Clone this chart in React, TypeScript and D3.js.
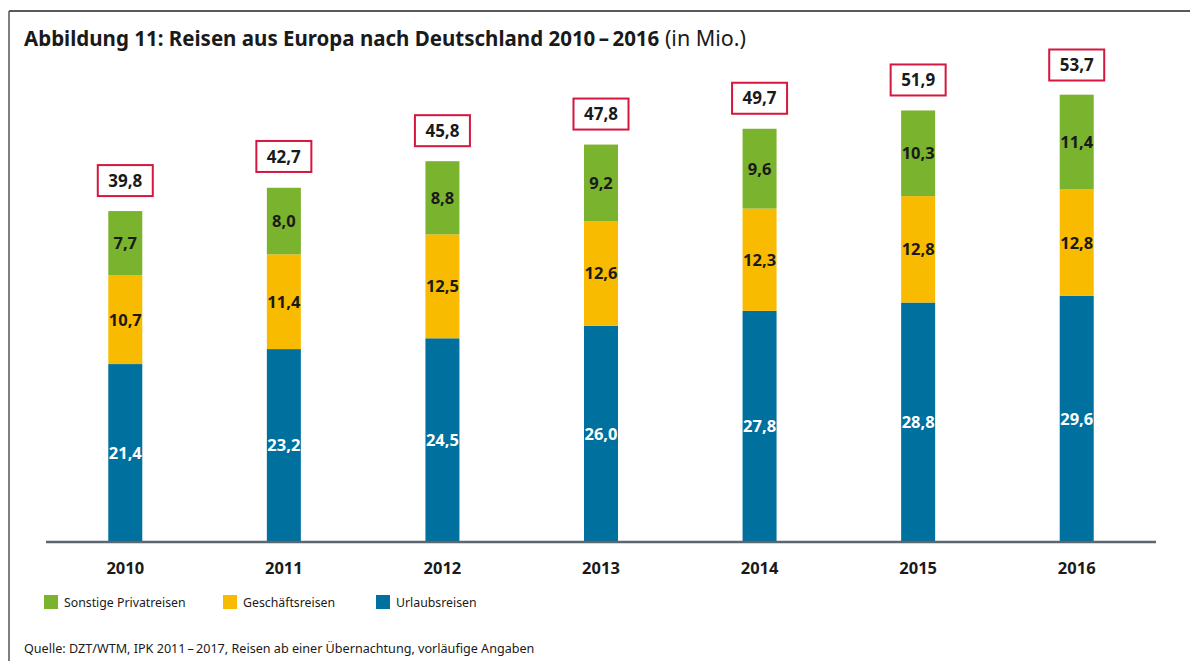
import React from "react";
import * as d3 from "d3";

const years = ["2010", "2011", "2012", "2013", "2014", "2015", "2016"];
const urlaub = [21.4, 23.2, 24.5, 26.0, 27.8, 28.8, 29.6];
const geschaeft = [10.7, 11.4, 12.5, 12.6, 12.3, 12.8, 12.8];
const sonstige = [7.7, 8.0, 8.8, 9.2, 9.6, 10.3, 11.4];
const totals = [39.8, 42.7, 45.8, 47.8, 49.7, 51.9, 53.7];
const seriesNames = ["Sonstige Privatreisen", "Geschäftsreisen", "Urlaubsreisen"];
const colors = ["#7ab32e", "#f8bb00", "#00709e"];

const W = 1190;
const H = 661;
const FONT = "'Noto Sans', 'Open Sans', sans-serif";

const fmt = (v: number) => v.toFixed(1).replace(".", ",");

export default function App() {
  const x = d3.scaleBand<string>().domain(years).range([46, 1156]).paddingInner(0).paddingOuter(0);
  const y = d3.scaleLinear().domain([0, 53.7]).range([542, 95.5]);
  const barW = 34;

  const stackData = years.map((yr, i) => ({ year: yr, u: urlaub[i], g: geschaeft[i], s: sonstige[i] }));
  const stack = d3.stack<any>().keys(["u", "g", "s"])(stackData);
  const keyColor: Record<string, string> = { u: colors[2], g: colors[1], s: colors[0] };
  const keyText: Record<string, string> = { u: "#ffffff", g: "#1a1a1a", s: "#1a1a1a" };

  const legendX = [44, 223, 376];

  return (
    <svg width={W} height={H} style={{ position: "absolute", left: 0, top: 0, fontFamily: FONT }}>
      <rect x={0} y={0} width={W} height={H} fill="#ffffff" />
      <line x1={9} y1={11} x2={W} y2={11} stroke="#222" strokeWidth={1.5} />
      <line x1={9} y1={11} x2={9} y2={H} stroke="#555" strokeWidth={1.5} />
      <text x={24} y={46} fontSize={20.5} fill="#1a1a1a">
        <tspan fontWeight={700}>Abbildung 11: Reisen aus Europa nach Deutschland 2010{"\u2009–\u2009"}2016</tspan>
        <tspan fontWeight={400} fontSize={21.5}> (in Mio.)</tspan>
      </text>

      {stack.map((layer) =>
        layer.map((d, i) => {
          const cx = (x(years[i]) as number) + x.bandwidth() / 2;
          const y0 = y(d[0]);
          const y1 = y(d[1]);
          const val = (d.data as any)[layer.key];
          return (
            <g key={layer.key + i}>
              <rect x={cx - barW / 2} y={y1} width={barW} height={y0 - y1} fill={keyColor[layer.key]} />
              <text
                x={cx}
                y={(y0 + y1) / 2}
                dy="0.36em"
                textAnchor="middle"
                fontSize={16.5}
                fontWeight={700}
                fill={keyText[layer.key]}
              >
                {fmt(val)}
              </text>
            </g>
          );
        })
      )}

      {totals.map((t, i) => {
        const cx = (x(years[i]) as number) + x.bandwidth() / 2;
        const top = y(t);
        return (
          <g key={"t" + i}>
            <rect x={cx - 27.5} y={top - 46} width={55} height={31} fill="#fff" stroke="#d5173f" strokeWidth={2} />
            <text x={cx} y={top - 30.5} dy="0.36em" textAnchor="middle" fontSize={17} fontWeight={700} fill="#1a1a1a">
              {fmt(t)}
            </text>
          </g>
        );
      })}

      <line x1={46} y1={542} x2={1156} y2={542} stroke="#5a6670" strokeWidth={2.5} />

      {years.map((yr) => (
        <text
          key={yr}
          x={(x(yr) as number) + x.bandwidth() / 2}
          y={568}
          dy="0.36em"
          textAnchor="middle"
          fontSize={16.5}
          fontWeight={700}
          fill="#1a1a1a"
        >
          {yr}
        </text>
      ))}

      {seriesNames.map((n, i) => (
        <g key={n}>
          <rect x={legendX[i]} y={595} width={14} height={14} fill={colors[i]} />
          <text x={legendX[i] + 20} y={603} dy="0.36em" fontSize={12.3} fill="#1a1a1a">
            {n}
          </text>
        </g>
      ))}

      <text x={24} y={648} dy="0.36em" fontSize={12.6} fill="#1a1a1a">
        Quelle: DZT/WTM, IPK 2011{"\u2009–\u2009"}2017, Reisen ab einer Übernachtung, vorläufige Angaben
      </text>
    </svg>
  );
}
